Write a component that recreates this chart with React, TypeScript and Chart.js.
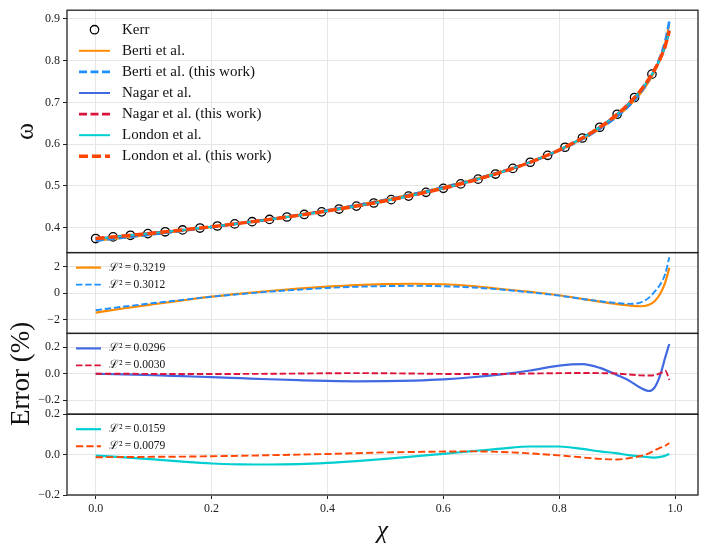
import { useEffect, useRef } from "react";
import { Chart, registerables, type ChartConfiguration, type Plugin } from "chart.js";

Chart.register(...registerables);

// Kerr QNM frequencies (l=m=2, n=0) sampled every 0.03 in spin
const KERR_CHI = [
  0, 0.03, 0.06, 0.09, 0.12, 0.15, 0.18, 0.21, 0.24, 0.27, 0.3, 0.33, 0.36, 0.39, 0.42, 0.45, 0.48,
  0.51, 0.54, 0.57, 0.6, 0.63, 0.66, 0.69, 0.72, 0.75, 0.78, 0.81, 0.84, 0.87, 0.9, 0.93, 0.96,
];
const KERR_OMEGA = [
  0.3737, 0.3776, 0.3815, 0.3856, 0.3899, 0.3943, 0.3989, 0.4037, 0.4088, 0.4141, 0.4195, 0.4253,
  0.4314, 0.4377, 0.4444, 0.4514, 0.4589, 0.4669, 0.4754, 0.4845, 0.4941, 0.5047, 0.516, 0.5283,
  0.5418, 0.5566, 0.5732, 0.5925, 0.6147, 0.6405, 0.6716, 0.7117, 0.7677,
];

// spin grid for the fitted curves
const FIT_CHI = [
  0, 0.05, 0.1, 0.15, 0.2, 0.25, 0.3, 0.35, 0.4, 0.45, 0.5, 0.55, 0.6, 0.65, 0.7, 0.75, 0.8, 0.84,
  0.87, 0.9, 0.92, 0.94, 0.955, 0.965, 0.975, 0.983, 0.99,
];

const OMEGA_BERTI = [
  0.3682, 0.3758, 0.3837, 0.3921, 0.401, 0.4103, 0.4201, 0.4307, 0.4419, 0.4541, 0.4672, 0.4816,
  0.4974, 0.5149, 0.5342, 0.557, 0.585, 0.6119, 0.6363, 0.666, 0.6904, 0.7207, 0.7502, 0.7749,
  0.8068, 0.8418, 0.8875,
];
const OMEGA_BERTI_NEW = [
  0.3688, 0.3763, 0.3841, 0.3922, 0.401, 0.4102, 0.4199, 0.4304, 0.4415, 0.4535, 0.4665, 0.4809,
  0.4966, 0.5143, 0.534, 0.5569, 0.5848, 0.6119, 0.6365, 0.6665, 0.6913, 0.7228, 0.7543, 0.7805,
  0.8124, 0.8472, 0.8945,
];
const OMEGA_NAGAR = [
  0.3737, 0.3802, 0.387, 0.3943, 0.402, 0.4104, 0.4193, 0.4291, 0.4396, 0.4511, 0.4638, 0.4781,
  0.4939, 0.512, 0.5326, 0.5567, 0.5864, 0.6151, 0.6408, 0.6716, 0.6967, 0.7272, 0.7559, 0.7788,
  0.8068, 0.8361, 0.873,
];
const OMEGA_NAGAR_NEW = [
  0.3737, 0.3802, 0.387, 0.3943, 0.4021, 0.4105, 0.4195, 0.4293, 0.4398, 0.4514, 0.4641, 0.4783,
  0.4941, 0.5121, 0.5326, 0.5566, 0.586, 0.6147, 0.6405, 0.6716, 0.697, 0.7279, 0.7568, 0.7795,
  0.8068, 0.8353, 0.8706,
];
const OMEGA_LONDON = [
  0.3737, 0.3801, 0.3869, 0.3942, 0.4019, 0.4103, 0.4193, 0.4291, 0.4396, 0.4513, 0.464, 0.4783,
  0.4941, 0.5122, 0.5328, 0.5568, 0.5862, 0.6149, 0.6406, 0.6716, 0.697, 0.7279, 0.7568, 0.7795,
  0.8067, 0.8351, 0.871,
];
const OMEGA_LONDON_NEW = [
  0.3737, 0.3802, 0.387, 0.3943, 0.4021, 0.4105, 0.4195, 0.4293, 0.4398, 0.4514, 0.4642, 0.4784,
  0.4942, 0.5122, 0.5327, 0.5566, 0.586, 0.6146, 0.6404, 0.6714, 0.6969, 0.7279, 0.7569, 0.7798,
  0.8071, 0.8355, 0.8715,
];

// relative error in percent
const ERR_BERTI = [
  -1.48, -1.15, -0.85, -0.56, -0.28, -0.05, 0.15, 0.33, 0.48, 0.6, 0.67, 0.7, 0.66, 0.53, 0.3, 0.08,
  -0.17, -0.45, -0.65, -0.84, -0.94, -1.0, -0.88, -0.6, 0.0, 0.8, 1.9,
];
const ERR_BERTI_NEW = [
  -1.3, -1.02, -0.76, -0.52, -0.28, -0.08, 0.1, 0.25, 0.38, 0.47, 0.52, 0.54, 0.51, 0.42, 0.26, 0.05,
  -0.2, -0.45, -0.62, -0.76, -0.82, -0.72, -0.35, 0.12, 0.7, 1.45, 2.7,
];
const ERR_NAGAR = [
  0.0, -0.005, -0.011, -0.018, -0.025, -0.033, -0.041, -0.048, -0.054, -0.057, -0.056, -0.051, -0.042,
  -0.026, -0.004, 0.025, 0.062, 0.073, 0.045, -0.01, -0.05, -0.105, -0.13, -0.1, 0.0, 0.125, 0.225,
];
const ERR_NAGAR_NEW = [
  0.0, 0.0, -0.001, -0.002, -0.002, -0.001, 0.0, 0.002, 0.004, 0.005, 0.004, 0.002, -0.001, -0.002,
  -0.001, 0.002, 0.005, 0.006, 0.005, 0.002, -0.005, -0.012, -0.013, -0.01, 0.005, 0.024, -0.045,
];
const ERR_LONDON = [
  -0.005, -0.014, -0.024, -0.035, -0.044, -0.048, -0.049, -0.047, -0.041, -0.032, -0.021, -0.009,
  0.004, 0.017, 0.03, 0.04, 0.04, 0.028, 0.016, 0.006, -0.003, -0.009, -0.013, -0.015, -0.011, -0.005,
  0.003,
];
const ERR_LONDON_NEW = [
  -0.013, -0.012, -0.011, -0.01, -0.008, -0.006, -0.003, 0.0, 0.003, 0.007, 0.011, 0.013, 0.015,
  0.016, 0.013, 0.006, -0.004, -0.014, -0.021, -0.024, -0.018, -0.007, 0.006, 0.022, 0.034, 0.044,
  0.057,
];

const FIT_NAMES = [
  "Berti et al.",
  "Berti et al. (this work)",
  "Nagar et al.",
  "Nagar et al. (this work)",
  "London et al.",
  "London et al. (this work)",
];
const L2_VALUES = ["0.3219", "0.3012", "0.0296", "0.0030", "0.0159", "0.0079"];

const SERIF = "'Liberation Serif', 'DejaVu Serif', serif";
const GRID = "#e6e6e6";
const INK = "#222";

const LINE_STYLES = [
  { color: "#ff8c00", dash: [] as number[], top: 2, err: 2.2 },
  { color: "#1e90ff", dash: [8, 3.5], top: 2.6, err: 1.9 },
  { color: "#4169e1", dash: [] as number[], top: 2, err: 2.2 },
  { color: "#dc143c", dash: [8, 3.5], top: 2.6, err: 1.9 },
  { color: "#00ced1", dash: [] as number[], top: 2, err: 2.2 },
  { color: "#ff4500", dash: [9, 4], top: 3.4, err: 1.9 },
];

const pairs = (xs: number[], ys: number[]) => xs.map((x, i) => ({ x, y: ys[i] }));

// in-panel legends plus the black frame around each stacked panel
const panelPlugin: Plugin<"line"> = {
  id: "panels",
  afterDatasetsDraw(chart) {
    const { ctx, chartArea } = chart;
    const ids = ["yOmega", "yBerti", "yNagar", "yLondon"];
    ctx.save();
    for (const id of ids) {
      const scale = chart.scales[id];
      const isTop = id === "yOmega";
      const items = chart.data.datasets.filter((ds: any) => ds.yAxisID === id);
      items.forEach((ds: any, i) => {
        const y = scale.top + (isTop ? 19.5 : 15) + i * (isTop ? 21.1 : 17);
        const x0 = chartArea.left + (isTop ? 12 : 9);
        const x1 = chartArea.left + (isTop ? 43 : 34);
        if (ds.showLine === false) {
          ctx.setLineDash([]);
          ctx.lineWidth = ds.pointBorderWidth;
          ctx.strokeStyle = ds.pointBorderColor;
          ctx.beginPath();
          ctx.arc((x0 + x1) / 2, y, ds.pointRadius, 0, Math.PI * 2);
          ctx.stroke();
        } else {
          ctx.setLineDash(ds.borderDash || []);
          ctx.lineWidth = ds.borderWidth;
          ctx.strokeStyle = ds.borderColor;
          ctx.beginPath();
          ctx.moveTo(x0, y);
          ctx.lineTo(x1, y);
          ctx.stroke();
        }
        ctx.fillStyle = "#111";
        ctx.font = `${isTop ? 15 : 11.5}px ${SERIF}`;
        ctx.textBaseline = "middle";
        ctx.textAlign = "left";
        ctx.fillText(ds.label, chartArea.left + (isTop ? 55 : 42), y);
      });
    }
    ctx.setLineDash([]);
    ctx.strokeStyle = INK;
    ctx.lineWidth = 1.3;
    for (const id of ids) {
      const s = chart.scales[id];
      ctx.strokeRect(chartArea.left, s.top, chartArea.right - chartArea.left, s.bottom - s.top);
    }
    ctx.restore();
  },
};

const minusFmt = (digits: number) => (v: number | string) => {
  const n = Number(v);
  const s = Math.abs(n).toFixed(digits);
  return n < -1e-9 ? "\u2212" + s : s;
};

const tickFont = { family: SERIF, size: 12 };

const panelScale = (min: number, max: number, step: number, digits: number, weight: number) => ({
  type: "linear" as const,
  position: "left" as const,
  stack: "panels",
  stackWeight: weight,
  min,
  max,
  ticks: {
    stepSize: step,
    includeBounds: false,
    autoSkip: false,
    color: INK,
    font: tickFont,
    padding: 3,
    callback: minusFmt(digits),
  },
  grid: { color: GRID, tickColor: INK, tickLength: 4 },
  border: { display: false },
  afterFit: (s: any) => {
    s.width = 67;
  },
});

export default function App() {
  const canvasRef = useRef<HTMLCanvasElement>(null);

  useEffect(() => {
    const ctx = canvasRef.current?.getContext("2d");
    if (!ctx) return;

    const fitOmega = [OMEGA_BERTI, OMEGA_BERTI_NEW, OMEGA_NAGAR, OMEGA_NAGAR_NEW, OMEGA_LONDON, OMEGA_LONDON_NEW];
    const fitErr = [ERR_BERTI, ERR_BERTI_NEW, ERR_NAGAR, ERR_NAGAR_NEW, ERR_LONDON, ERR_LONDON_NEW];
    const errAxes = ["yBerti", "yBerti", "yNagar", "yNagar", "yLondon", "yLondon"];

    const datasets: any[] = [
      {
        label: "Kerr",
        yAxisID: "yOmega",
        data: pairs(KERR_CHI, KERR_OMEGA),
        showLine: false,
        pointRadius: 4.2,
        pointBorderWidth: 1.3,
        pointBorderColor: "#000",
        pointBackgroundColor: "rgba(0,0,0,0)",
      },
      ...FIT_NAMES.map((name, i) => ({
        label: name,
        yAxisID: "yOmega",
        data: pairs(FIT_CHI, fitOmega[i]),
        borderColor: LINE_STYLES[i].color,
        borderDash: LINE_STYLES[i].dash,
        borderWidth: LINE_STYLES[i].top,
        pointRadius: 0,
        cubicInterpolationMode: "monotone",
      })),
      ...FIT_NAMES.map((_, i) => ({
        label: `\u2112\u00B2\u2009=\u2009${L2_VALUES[i]}`,
        yAxisID: errAxes[i],
        data: pairs(FIT_CHI, fitErr[i]),
        borderColor: LINE_STYLES[i].color,
        borderDash: LINE_STYLES[i].dash.map((d) => d * 0.8),
        borderWidth: LINE_STYLES[i].err,
        pointRadius: 0,
        cubicInterpolationMode: "monotone",
      })),
    ];
    datasets.forEach((ds, i) => (ds.order = -i));

    const config: ChartConfiguration<"line"> = {
      type: "line",
      data: { datasets },
      options: {
        responsive: true,
        maintainAspectRatio: false,
        animation: false,
        layout: { padding: { top: 8, right: 8, left: 0, bottom: 0 } },
        plugins: { legend: { display: false }, tooltip: { enabled: false } },
        scales: {
          x: {
            type: "linear",
            min: -0.0495,
            max: 1.0395,
            ticks: { stepSize: 0.2, includeBounds: false, color: INK, font: tickFont, padding: 3, callback: minusFmt(1) },
            grid: { color: GRID, tickColor: INK, tickLength: 4 },
            border: { display: false },
            title: {
              display: true,
              text: "\u03C7",
              color: "#111",
              font: { family: SERIF, size: 25, style: "italic" },
              padding: { top: 0, bottom: 5 },
            },
            afterFit: (s: any) => {
              s.height = 56;
            },
          },
          yLondon: panelScale(-0.2, 0.2, 0.2, 1, 1),
          yNagar: {
            ...panelScale(-0.305, 0.305, 0.2, 1, 1),
            title: {
              display: true,
              text: "Error (%)",
              color: "#111",
              font: { family: SERIF, size: 27 },
              padding: { top: 6, bottom: 0 },
            },
          },
          yBerti: panelScale(-3.05, 3.05, 2, 0, 1),
          yOmega: {
            ...panelScale(0.34, 0.921, 0.1, 1, 3),
            title: {
              display: true,
              text: "\u03C9",
              color: "#111",
              font: { family: SERIF, size: 26 },
              padding: { top: 11, bottom: 0 },
            },
          },
        } as any,
      },
      plugins: [panelPlugin],
    };

    const chart = new Chart(ctx, config);
    return () => chart.destroy();
  }, []);

  return (
    <div style={{ position: "fixed", left: 0, top: 0, width: 706, height: 551, background: "#fff" }}>
      <canvas ref={canvasRef} />
    </div>
  );
}
